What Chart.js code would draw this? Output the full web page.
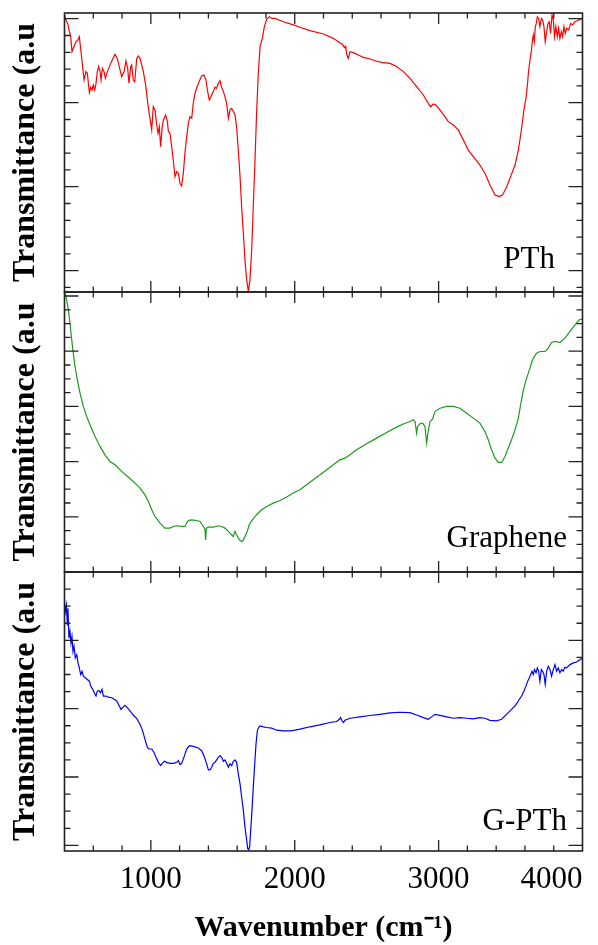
<!DOCTYPE html>
<html><head><meta charset="utf-8">
<script src="https://cdn.jsdelivr.net/npm/chart.js@4.4.1/dist/chart.umd.min.js"></script>
<style>
html,body{margin:0;padding:0;background:#fff;}
#wrap{position:relative;width:598px;height:945px;overflow:hidden;background:#fff;}
.pane{position:absolute;left:0;width:598px;}
canvas{display:block;}
</style></head><body>
<div id="wrap">
<div class="pane" style="top:0;height:294px"><canvas id="c1" width="598" height="294"></canvas></div>
<div class="pane" style="top:290px;height:284px"><canvas id="c2" width="598" height="284"></canvas></div>
<div class="pane" style="top:570px;height:375px"><canvas id="c3" width="598" height="375"></canvas></div>
</div>
<script>
// ---- axis data ----
const xMin = 400, xMax = 4000, xMinorStep = 200, xMajorStep = 1000;
const xTickValues = [400, 1000, 2000, 3000, 4000];
const xTickLabels = ['', '1000', '2000', '3000', '4000'];
const xTitle = 'Wavenumber (cm\u207B\u00B9)';
const yTitle = 'Transmittance (a.u';
const panelNames = ['PTh', 'Graphene', 'G-PTh'];

// ---- series (wavenumber, transmittance a.u.) ----
const pthX = [401,410,422,434,443,452,466,480,492,503,512,526,536,549,559,568,573,582,591,600,610,619,628,638,647,654,663,675,684,698,721,751,767,786,797,814,827,839,848,860,867,878,888,902,913,925,948,964,976,985,994,1006,1017,1029,1041,1050,1059,1068,1078,1087,1103,1115,1122,1133,1145,1156,1168,1180,1191,1203,1214,1226,1237,1249,1261,1272,1284,1295,1307,1318,1335,1353,1369,1383,1393,1406,1418,1434,1446,1457,1469,1481,1492,1504,1515,1527,1539,1550,1562,1573,1585,1596,1608,1620,1631,1643,1654,1666,1678,1689,1701,1712,1724,1735,1747,1759,1775,1789,1805,1823,1840,1863,1921,1990,2036,2106,2199,2268,2314,2333,2345,2354,2361,2372,2384,2407,2442,2477,2523,2581,2616,2662,2708,2755,2801,2847,2894,2928,2945,2963,2982,3009,3044,3067,3102,3137,3172,3206,3241,3287,3322,3357,3392,3419,3445,3473,3500,3531,3554,3565,3572,3584,3593,3607,3616,3626,3635,3644,3651,3658,3665,3672,3679,3686,3695,3704,3714,3723,3732,3741,3751,3760,3769,3778,3788,3797,3806,3815,3825,3834,3843,3853,3862,3871,3880,3890,3904,3917,3931,3948,3964,3982,4000];
const pthY = [15.22,14.92,14.72,14.23,13.93,13.04,13.34,13.63,13.73,13.93,13.24,12.15,11.35,11.85,11.75,10.95,10.60,10.92,10.76,11.05,10.76,11.15,11.85,12.15,11.85,11.35,12.05,11.85,11.45,11.85,12.34,12.88,12.64,11.95,11.55,11.85,12.48,12.05,11.15,12.15,12.24,11.35,11.25,12.64,12.78,12.64,11.85,11.05,10.16,9.57,9.07,8.38,9.76,9.57,8.67,8.18,8.57,7.38,8.47,8.97,9.27,8.87,8.28,8.18,7.38,6.59,5.60,5.90,5.80,5.20,5.04,5.80,6.99,7.98,8.77,9.17,9.07,9.96,10.56,10.86,11.25,11.59,11.65,11.35,10.76,10.16,10.36,10.66,10.92,10.86,11.15,11.31,10.92,10.66,10.36,9.96,9.07,9.57,9.66,9.47,9.27,8.57,7.18,5.60,3.81,2.22,0.64,-0.55,-1.25,-0.55,1.23,3.81,6.59,9.37,11.75,13.34,13.83,14.53,14.96,15.12,15.02,15.02,14.82,14.63,14.49,14.29,14.09,13.83,13.57,13.47,13.28,13.37,12.90,12.64,13.04,12.98,12.84,12.70,12.60,12.44,12.38,12.34,12.15,11.85,11.45,10.95,10.46,9.96,9.76,9.92,9.86,9.57,9.17,8.87,8.67,8.38,7.78,7.18,6.79,6.29,5.80,5.10,4.51,4.41,4.51,5.00,5.60,6.29,7.18,7.78,8.18,8.97,9.57,10.26,10.95,11.95,12.54,13.04,13.63,14.03,13.63,14.53,14.72,15.12,15.02,14.53,15.02,14.92,14.53,13.63,14.23,14.72,14.82,14.13,15.22,14.92,13.93,14.53,13.93,14.43,13.83,14.23,13.93,14.53,14.13,14.43,14.33,14.72,14.63,14.82,14.88,14.96,15.02];

const grapheneX = [404,415,427,438,450,461,473,489,508,531,554,577,612,647,681,716,751,797,844,890,925,959,983,1006,1029,1064,1098,1133,1156,1180,1214,1237,1249,1261,1284,1318,1342,1365,1376,1381,1386,1400,1434,1469,1492,1515,1550,1573,1585,1596,1615,1631,1643,1666,1684,1705,1735,1770,1805,1851,1898,1944,1990,2036,2083,2129,2176,2222,2268,2314,2349,2384,2430,2500,2569,2639,2708,2755,2801,2824,2836,2847,2854,2870,2889,2905,2917,2926,2940,2958,2975,3009,3056,3102,3148,3195,3241,3287,3322,3345,3368,3392,3415,3438,3461,3484,3507,3531,3554,3570,3589,3612,3635,3649,3658,3681,3704,3739,3762,3785,3809,3843,3878,3913,3948,3978,4000];
const grapheneY = [16.21,15.72,15.00,14.03,12.83,11.86,10.89,9.93,8.96,8.00,7.27,6.67,5.82,5.10,4.49,4.01,3.77,3.29,2.87,2.44,2.08,1.59,1.11,0.51,0.02,-0.46,-0.82,-0.82,-0.70,-0.65,-0.70,-0.70,-0.46,-0.27,-0.22,-0.27,-0.34,-0.70,-0.89,-1.67,-0.82,-0.75,-0.75,-0.65,-0.70,-0.82,-1.18,-1.43,-1.06,-1.30,-1.67,-1.79,-1.67,-1.18,-0.58,-0.22,0.15,0.51,0.75,0.99,1.18,1.43,1.72,1.96,2.32,2.68,3.04,3.41,3.77,4.13,4.25,4.49,4.86,5.29,5.70,6.11,6.50,6.72,6.91,7.03,6.91,6.06,6.55,6.74,6.79,6.55,5.34,6.06,6.91,7.08,7.63,7.87,8.00,8.00,7.87,7.51,7.15,6.79,6.18,5.58,4.86,4.25,3.94,3.94,4.37,4.98,5.58,6.30,7.15,8.12,9.20,10.05,10.77,11.26,11.50,11.86,11.98,11.98,12.22,12.63,12.71,12.63,12.95,13.43,13.91,14.28,14.32];

const gpthX = [400,406,413,420,424,431,438,445,452,459,466,475,485,494,503,512,522,531,545,559,573,582,596,610,619,628,640,651,661,670,688,705,728,744,763,781,793,804,820,837,855,878,902,925,943,959,976,987,1006,1022,1036,1052,1068,1080,1094,1110,1133,1156,1180,1191,1203,1214,1230,1249,1268,1295,1330,1353,1369,1388,1400,1411,1423,1434,1446,1457,1469,1481,1492,1504,1515,1527,1539,1550,1562,1573,1585,1596,1608,1620,1631,1643,1654,1666,1673,1680,1687,1694,1703,1712,1722,1731,1740,1749,1759,1782,1805,1840,1874,1921,1967,2002,2036,2106,2175,2245,2291,2310,2319,2328,2338,2349,2384,2453,2523,2592,2662,2731,2801,2847,2894,2928,2951,2975,3009,3056,3102,3148,3195,3241,3287,3322,3357,3403,3438,3461,3484,3507,3531,3547,3561,3577,3593,3607,3619,3630,3640,3649,3658,3667,3677,3686,3695,3704,3714,3723,3732,3741,3751,3762,3774,3785,3797,3809,3820,3832,3843,3855,3866,3878,3890,3913,3936,3959,3982,4000];
const gpthY = [14.17,13.68,14.07,12.91,13.87,12.13,12.52,11.84,12.23,11.36,11.65,10.97,11.16,10.68,10.39,10.00,10.19,9.90,9.80,9.71,9.61,9.32,9.13,8.87,8.74,9.03,9.07,8.93,9.13,8.74,8.74,8.68,8.64,8.55,8.45,8.16,7.96,8.06,8.20,8.06,7.87,7.63,7.42,7.09,6.70,6.22,5.73,5.64,5.64,5.44,5.15,4.86,4.67,4.80,4.92,4.86,4.80,4.80,4.86,4.96,4.73,4.80,5.15,5.64,5.83,5.79,5.70,5.54,5.25,4.77,4.42,4.42,4.57,4.80,4.86,5.00,5.15,5.25,5.15,4.92,5.00,4.80,4.57,4.77,4.67,4.92,5.00,4.86,4.18,3.60,2.83,2.05,1.08,0.31,-0.18,-0.27,-0.08,0.89,2.05,3.41,4.77,5.93,6.70,6.90,6.99,6.94,6.90,6.86,6.74,6.70,6.70,6.74,6.80,6.94,7.05,7.19,7.25,7.38,7.48,7.29,7.19,7.32,7.44,7.52,7.60,7.67,7.75,7.79,7.77,7.63,7.48,7.38,7.52,7.67,7.61,7.52,7.44,7.48,7.44,7.40,7.48,7.44,7.32,7.29,7.38,7.58,7.77,7.96,8.16,8.35,8.55,8.74,9.03,9.32,9.61,9.80,10.00,10.19,10.00,10.29,10.10,10.39,10.19,9.61,10.29,10.19,10.00,9.42,10.19,10.48,10.29,9.90,10.29,10.58,10.19,10.39,10.10,10.29,10.19,10.42,10.39,10.58,10.68,10.73,10.87,10.97];

// y ranges (arbitrary units) and tick spacing per panel
const yMins = [-1.27, -4, -0.33];
const yMaxs = [15.34, 16.29, 16];
const yMajorEvery = [5, 4, 4];

const SERIF = '"Liberation Serif", "Times New Roman", serif';

function pts(xs, ys) {
  const n = Math.min(xs.length, ys.length);
  const out = [];
  for (let i = 0; i < n; i++) out.push({x: xs[i], y: ys[i]});
  return out;
}

const frameTicks = {
  id: 'frameTicks',
  afterDatasetsDraw(chart, args, o) {
    const {ctx, chartArea: a, scales: {x, y}} = chart;
    ctx.save();
    ctx.strokeStyle = '#222';
    ctx.lineWidth = 1.3;
    ctx.beginPath();
    for (let v = xMin + xMinorStep; v < xMax; v += xMinorStep) {
      const px = x.getPixelForValue(v);
      const len = (v % xMajorStep === 0) ? 11 : 5.5;
      ctx.moveTo(px, a.top); ctx.lineTo(px, a.top + len);
      ctx.moveTo(px, a.bottom); ctx.lineTo(px, a.bottom - len);
    }
    for (let v = Math.ceil(y.min); v <= y.max; v += 1) {
      const py = y.getPixelForValue(v);
      const len = (v % o.major === 0) ? 14 : 6;
      ctx.moveTo(a.left, py); ctx.lineTo(a.left + len, py);
      ctx.moveTo(a.right, py); ctx.lineTo(a.right - len, py);
    }
    ctx.stroke();
    ctx.lineWidth = 1.6;
    ctx.strokeRect(a.left, a.top, a.right - a.left, a.bottom - a.top);
    ctx.fillStyle = '#000';
    ctx.font = '31px ' + SERIF;
    ctx.textAlign = 'right';
    ctx.textBaseline = 'alphabetic';
    ctx.fillText(o.label, a.right - o.dx, a.bottom - o.dy);
    ctx.restore();
  }
};

function makeChart(id, idx, data, color, pad, showX, lbl) {
  return new Chart(document.getElementById(id), {
    type: 'line',
    data: { datasets: [{ data: data, borderColor: color, borderWidth: 1.2, pointRadius: 0, tension: 0, fill: false }] },
    options: {
      responsive: false, animation: false, events: [],
      layout: { padding: { left: 0, right: 15.5, top: pad.top, bottom: pad.bottom } },
      plugins: { legend: { display: false }, tooltip: { enabled: false },
        frameTicks: { label: lbl.text, dx: lbl.dx, dy: lbl.dy, major: yMajorEvery[idx] } },
      scales: {
        x: {
          type: 'linear', min: xMin, max: xMax, display: showX,
          grid: { display: false, drawTicks: false }, border: { display: false },
          afterBuildTicks: s => { s.ticks = xTickValues.map(v => ({ value: v })); },
          afterFit: s => { if (showX) s.height = 94; },
          ticks: {
            align: 'inner', autoSkip: false, maxRotation: 0, padding: 13, color: '#000',
            font: { family: SERIF, size: 31, lineHeight: 1 },
            callback: v => { const k = xTickValues.indexOf(v); return k >= 0 ? xTickLabels[k] : ''; }
          },
          title: { display: showX, text: xTitle, color: '#000',
            font: { family: SERIF, size: 30, weight: 'bold', lineHeight: 1 },
            padding: { top: 0, bottom: 2 } }
        },
        y: {
          min: yMins[idx], max: yMaxs[idx],
          grid: { display: false, drawTicks: false }, border: { display: false },
          ticks: { display: false },
          afterFit: s => { s.width = 64.5; },
          title: { display: true, text: yTitle, color: '#000',
            font: { family: SERIF, size: 32, weight: 'bold', lineHeight: 1 },
            padding: { top: 10, bottom: 0 } }
        }
      }
    },
    plugins: [frameTicks]
  });
}

makeChart('c1', 0, pts(pthX, pthY), '#ff0000', {top: 13, bottom: 2}, false, {text: panelNames[0], dx: 27.5, dy: 24});
makeChart('c2', 1, pts(grapheneX, grapheneY), '#1c9a1c', {top: 2, bottom: 2}, false, {text: panelNames[1], dx: 15.5, dy: 25});
makeChart('c3', 2, pts(gpthX, gpthY), '#0000ff', {top: 2, bottom: 0}, true, {text: panelNames[2], dx: 15.5, dy: 21});
</script>
</body></html>
